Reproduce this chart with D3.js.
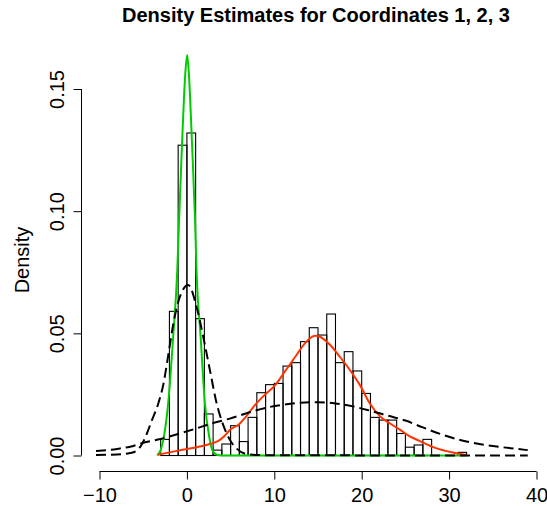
<!DOCTYPE html>
<html>
<head>
<meta charset="utf-8">
<style>
  body { margin: 0; background: #fff; }
  svg text { font-family: "Liberation Sans", Arial, sans-serif; fill: #000; }
</style>
<script src="https://cdn.jsdelivr.net/npm/d3@7"></script>
</head>
<body>
<script>
// histogram: left edges of unit bins and their densities
var binLeft = d3.range(-3, 32);
var binDens = [0.0066, 0.059, 0.127, 0.132, 0.056, 0.017, 0.0022, 0.0047, 0.0122, 0.0057,
               0.0156, 0.0257, 0.029, 0.0295, 0.0366, 0.038, 0.0466, 0.0523, 0.0493, 0.0579,
               0.038, 0.0425, 0.0346, 0.0254, 0.0156, 0.0145, 0.0145, 0.009, 0.0034, 0.0043,
               0.0066, 0, 0, 0, 0.0013];

// green density (coordinate near 0)
var greenX = [-3.4, -3.0, -2.63, -2.14, -1.57, -1.1, -0.88, -0.54, -0.19, 0.03, 0.23, 0.57,
              0.92, 1.1, 1.57, 2.06, 2.55, 2.9, 3.4, 4, 32];
var greenY = [0, 0.0023, 0.0077, 0.0214, 0.0486, 0.0759, 0.0977, 0.129, 0.156, 0.1639, 0.156, 0.129,
              0.0977, 0.0759, 0.0486, 0.0214, 0.0077, 0.0023, 0.0003, 0, 0];

// red density (coordinate near 15)
var redX = [-3.3, -1, 1, 2.6, 3.6, 4.3, 4.9, 6.0, 6.6, 7.8, 8.9, 10.1, 11.2, 12.4, 13.5, 14.65,
            15.2, 16.4, 17.5, 18.65, 19.8, 20.9, 22.1, 23.2, 24.4, 25.5, 26.6, 28.5, 30.4, 32];
var redY = [0.0003, 0.002, 0.0033, 0.0047, 0.006, 0.008, 0.0104, 0.0129, 0.0152, 0.0207, 0.0248, 0.0288,
            0.0343, 0.0404, 0.0459, 0.049, 0.0486, 0.0452, 0.0404, 0.035, 0.0288, 0.0215, 0.016,
            0.0132, 0.0105, 0.0078, 0.006, 0.003, 0.0012, 0.0002];

// dashed curves
var narrowX = [-10.4, -8, -6.5, -5.75, -5.2, -4.6, -4.0, -3.3, -2.7, -2.1, -1.55, -0.8, 0.15, 1.1,
               1.87, 2.63, 3.4, 4.15, 4.9, 5.7, 6.6, 8, 10, 39];
var narrowY = [0.0002, 0.0004, 0.001, 0.002, 0.0043, 0.0088, 0.0145, 0.021, 0.029, 0.0418, 0.054, 0.065,
               0.0698, 0.0609, 0.0486, 0.035, 0.0214, 0.0125, 0.0065, 0.0028, 0.0008, 0.0002, 0.0001, 0];
var wideX = [-10.4, -8, -6.5, -5, -3, -1, 1, 3, 5, 7, 9, 11, 13, 15, 17, 19, 21, 23, 25, 27, 29,
             31, 33, 35, 37, 39];
var wideY = [0.0018, 0.0027, 0.0036, 0.0052, 0.0068, 0.0088, 0.011, 0.0133, 0.0152, 0.0175, 0.0195,
             0.0208, 0.0216, 0.0218, 0.0213, 0.0201, 0.0183, 0.0163, 0.0143, 0.0115, 0.0088, 0.0066,
             0.005, 0.0039, 0.003, 0.0022];

var xTicks = [-10, 0, 10, 20, 30, 40];
var yTicks = [0, 0.05, 0.10, 0.15];

var W = 547, H = 506;
var svg = d3.select("body").append("svg")
    .attr("width", W).attr("height", H);

var x = d3.scaleLinear().domain([-10, 40]).range([99.5, 536.5]);
var y = d3.scaleLinear().domain([0, 0.15]).range([455.5, 89]);

// histogram bars, unfilled
svg.append("g").selectAll("rect")
    .data(binLeft.map((b, i) => ({b: b, d: binDens[i]})))
  .enter().append("rect")
    .attr("x", d => x(d.b))
    .attr("width", d => x(d.b + 1) - x(d.b))
    .attr("y", d => y(d.d))
    .attr("height", d => y(0) - y(d.d))
    .attr("fill", "none")
    .attr("stroke", "#000")
    .attr("stroke-width", 1.1);

var line = d3.line()
    .x(d => x(d[0]))
    .y(d => y(d[1]))
    .curve(d3.curveMonotoneX);

function curve(xs, ys, color, dash) {
  svg.append("path")
      .datum(xs.map((v, i) => [v, ys[i]]))
      .attr("d", line)
      .attr("fill", "none")
      .attr("stroke", color)
      .attr("stroke-width", 2)
      .attr("stroke-dasharray", dash);
}

curve(greenX, greenY, "#00cd00", null);
curve(redX, redY, "#ff3300", null);
curve(narrowX, narrowY, "#000", "10,5");
curve(wideX, wideY, "#000", "10,5");

// axes
var xAxis = svg.append("g")
    .attr("transform", `translate(0,471.5)`)
    .call(d3.axisBottom(x).tickValues(xTicks).tickSize(8).tickPadding(6).tickFormat(d3.format("d")));
var yAxis = svg.append("g")
    .attr("transform", `translate(81.5,0)`)
    .call(d3.axisLeft(y).tickValues(yTicks).tickSize(8).tickFormat(d3.format(".2f")));

[xAxis, yAxis].forEach(function(a) {
  a.select(".domain").attr("stroke", "#000");
  a.selectAll(".tick line").attr("stroke", "#000");
  a.selectAll("text").attr("font-size", 20).attr("font-family", "Liberation Sans, Arial, sans-serif");
});
xAxis.select(".domain").attr("d", `M${x(-10)},0H${x(40)}`);
yAxis.select(".domain").attr("d", `M0,${y(0)}V${y(0.15)}`);
xAxis.selectAll(".tick text").attr("y", 0).attr("dy", null)
    .attr("transform", "translate(0,30)");

yAxis.selectAll(".tick text")
    .attr("x", null).attr("dy", null)
    .attr("text-anchor", "middle")
    .attr("transform", "translate(-18,0) rotate(-90)");

// labels
svg.append("text")
    .attr("x", 316).attr("y", 22)
    .attr("text-anchor", "middle")
    .attr("font-size", 20).attr("font-weight", "bold")
    .text("Density Estimates for Coordinates 1, 2, 3");

svg.append("text")
    .attr("transform", "translate(29,260) rotate(-90)")
    .attr("text-anchor", "middle")
    .attr("font-size", 20)
    .text("Density");
</script>
</body>
</html>
